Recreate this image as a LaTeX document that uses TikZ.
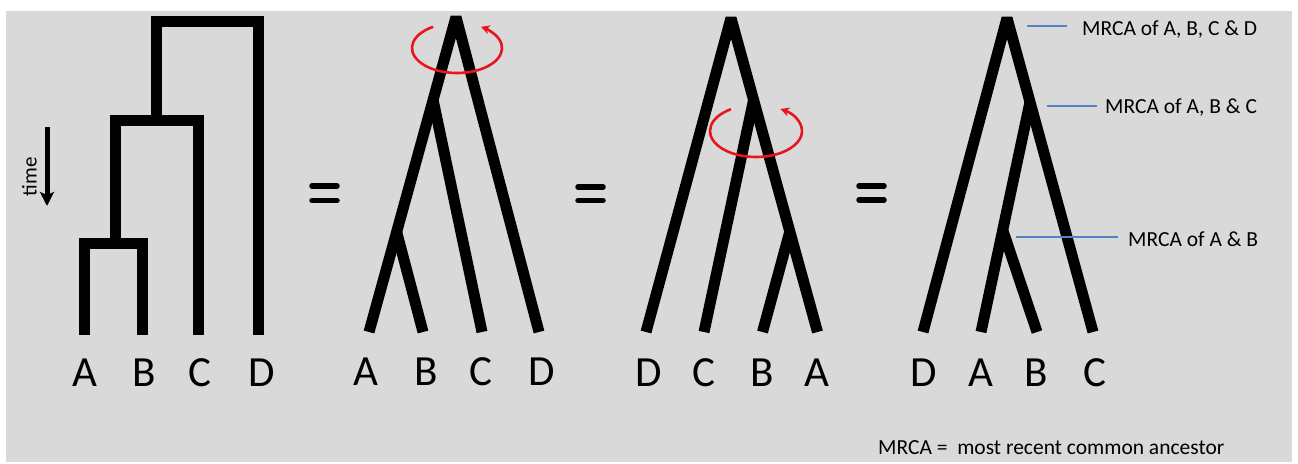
\documentclass[tikz,border=0pt]{standalone}
\usepackage{fontspec}
\setmainfont{Carlito}
\usetikzlibrary{arrows.meta,calc}
\definecolor{bg}{RGB}{217,217,217}
\definecolor{rot}{RGB}{232,22,28}
\definecolor{blau}{RGB}{84,130,195}
\tikzset{
  branch/.style={line width=11pt,line cap=butt,line join=miter,draw=black},
  slant/.style={line width=11pt,line cap=butt,line join=bevel,draw=black},
  leaf/.style={inner sep=0pt,anchor=base,font=\fontsize{43}{43}\selectfont},
  mrca/.style={inner sep=0pt,anchor=base west,font=\fontsize{21.5}{22}\selectfont},
  swirl/.style={draw=rot,line width=2.6pt,-{Stealth[length=9pt,width=9pt]}},
  pointer/.style={draw=blau,line width=2pt},
  eqbar/.style={line width=5.5pt,line cap=round}
}
\begin{document}
\begin{tikzpicture}[x=1pt,y=1pt]
\useasboundingbox (0,0) rectangle (1298,-463);
\fill[bg] (6,-11) rectangle (1292,-462);

% ---------- tree 1 (rectangular) ----------
\coordinate (A1) at (84,-335);
\coordinate (B1) at (142,-335);
\coordinate (C1) at (198.5,-335);
\coordinate (D1) at (258,-335);
\coordinate (ab1) at (115.5,-243.5);
\coordinate (abc1) at (156,-120.5);
\coordinate (root1) at (207,-21.5);
\draw[branch] (A1) |- (ab1) -| (B1);
\draw[branch] (ab1) |- (abc1) -| (C1);
\draw[branch] (abc1) |- (root1) -| (D1);
\node[leaf] (lA1) at (85,-386.5) {A};
\node[leaf] (lB1) at (144,-386.5) {B};
\node[leaf] (lC1) at (200,-386.5) {C};
\node[leaf] (lD1) at (262,-386.5) {D};

% time arrow
\coordinate (t0) at (47,-127);
\coordinate (t1) at (47,-206);
\draw[line width=5pt,-{Stealth[length=14pt,width=14pt,inset=3pt]}] (t0) -- (t1);
\node[inner sep=0pt,rotate=90,font=\fontsize{21}{21}\selectfont] (time) at (29.5,-177) {time};

% equals signs
\coordinate (e1a) at (312,-186); \coordinate (e1b) at (337,-186);
\coordinate (e1c) at (312,-200.5); \coordinate (e1d) at (337,-200.5);
\draw[eqbar] (e1a) -- (e1b); \draw[eqbar] (e1c) -- (e1d);
\coordinate (e2a) at (578,-187); \coordinate (e2b) at (603,-187);
\coordinate (e2c) at (578,-200.5); \coordinate (e2d) at (603,-200.5);
\draw[eqbar] (e2a) -- (e2b); \draw[eqbar] (e2c) -- (e2d);
\coordinate (e3a) at (859,-186); \coordinate (e3b) at (884,-186);
\coordinate (e3c) at (859,-200); \coordinate (e3d) at (884,-200);
\draw[eqbar] (e3a) -- (e3b); \draw[eqbar] (e3c) -- (e3d);

% ---------- tree 2 ----------
\coordinate (root2) at (456,-17);
\coordinate (A2) at (369,-332);
\coordinate (B2) at (423,-332);
\coordinate (C2) at (482,-332);
\coordinate (D2) at (539,-332);
\coordinate (abc2) at ($(root2)!0.2635!(A2)$);
\coordinate (ab2) at ($(root2)!0.6825!(A2)$);
\draw[slant] (A2) -- (root2) -- (D2);
\draw[slant] (abc2) -- (C2);
\draw[slant] (ab2) -- (B2);
\node[leaf] (lA2) at (366,-385) {A};
\node[leaf] (lB2) at (426,-385) {B};
\node[leaf] (lC2) at (481,-385) {C};
\node[leaf] (lD2) at (542,-385) {D};
\coordinate (r2) at (457,-48);
\draw[swirl] ($(r2)+(122:45 and 25)$) arc[start angle=122,end angle=418,x radius=45,y radius=25];

% ---------- tree 3 ----------
\coordinate (root3) at (731,-18);
\coordinate (D3) at (646,-332);
\coordinate (C3) at (704,-332);
\coordinate (B3) at (762.5,-332);
\coordinate (A3) at (817.5,-332);
\coordinate (abc3) at ($(root3)!0.261!(A3)$);
\coordinate (ab3) at ($(root3)!0.68!(A3)$);
\draw[slant] (D3) -- (root3) -- (A3);
\draw[slant] (abc3) -- (C3);
\draw[slant] (ab3) -- (B3);
\node[leaf] (lD3) at (649,-386.5) {D};
\node[leaf] (lC3) at (704,-386.5) {C};
\node[leaf] (lB3) at (762,-386.5) {B};
\node[leaf] (lA3) at (817,-386.5) {A};
\coordinate (r3) at (756,-131);
\draw[swirl] ($(r3)+(123:46 and 26)$) arc[start angle=123,end angle=418,x radius=46,y radius=26];

% ---------- tree 4 ----------
\coordinate (root4) at (1007,-18);
\coordinate (D4) at (923,-332);
\coordinate (A4) at (981,-332);
\coordinate (B4) at (1037,-332);
\coordinate (C4) at (1093,-332);
\coordinate (abc4) at ($(root4)!0.2675!(C4)$);
\coordinate (ab4) at ($(abc4)!0.557!(A4)$);
\draw[slant] (D4) -- (root4) -- (C4);
\draw[slant] (abc4) -- (A4);
\draw[slant] (ab4) -- (B4);
\node[leaf] (lD4) at (924,-386.5) {D};
\node[leaf] (lA4) at (981,-386.5) {A};
\node[leaf] (lB4) at (1036,-386.5) {B};
\node[leaf] (lC4) at (1095,-386.5) {C};

% MRCA pointers
\coordinate (p1s) at (1027,-26); \coordinate (p1e) at (1067,-26);
\coordinate (p2s) at (1047,-106); \coordinate (p2e) at (1097,-106);
\coordinate (p3s) at (1016,-237); \coordinate (p3e) at (1118,-237);
\draw[pointer] (p1s) -- (p1e);
\draw[pointer] (p2s) -- (p2e);
\draw[pointer] (p3s) -- (p3e);
\node[mrca] (m1) at (1082,-35) {MRCA of A, B, C \& D};
\node[mrca] (m2) at (1105,-113.3) {MRCA of A, B \& C};
\node[mrca] (m3) at (1128,-246) {MRCA of A \& B};
\node[mrca] (legend) at (878,-454) {MRCA =\ \ most recent common ancestor};
\end{tikzpicture}
\end{document}
